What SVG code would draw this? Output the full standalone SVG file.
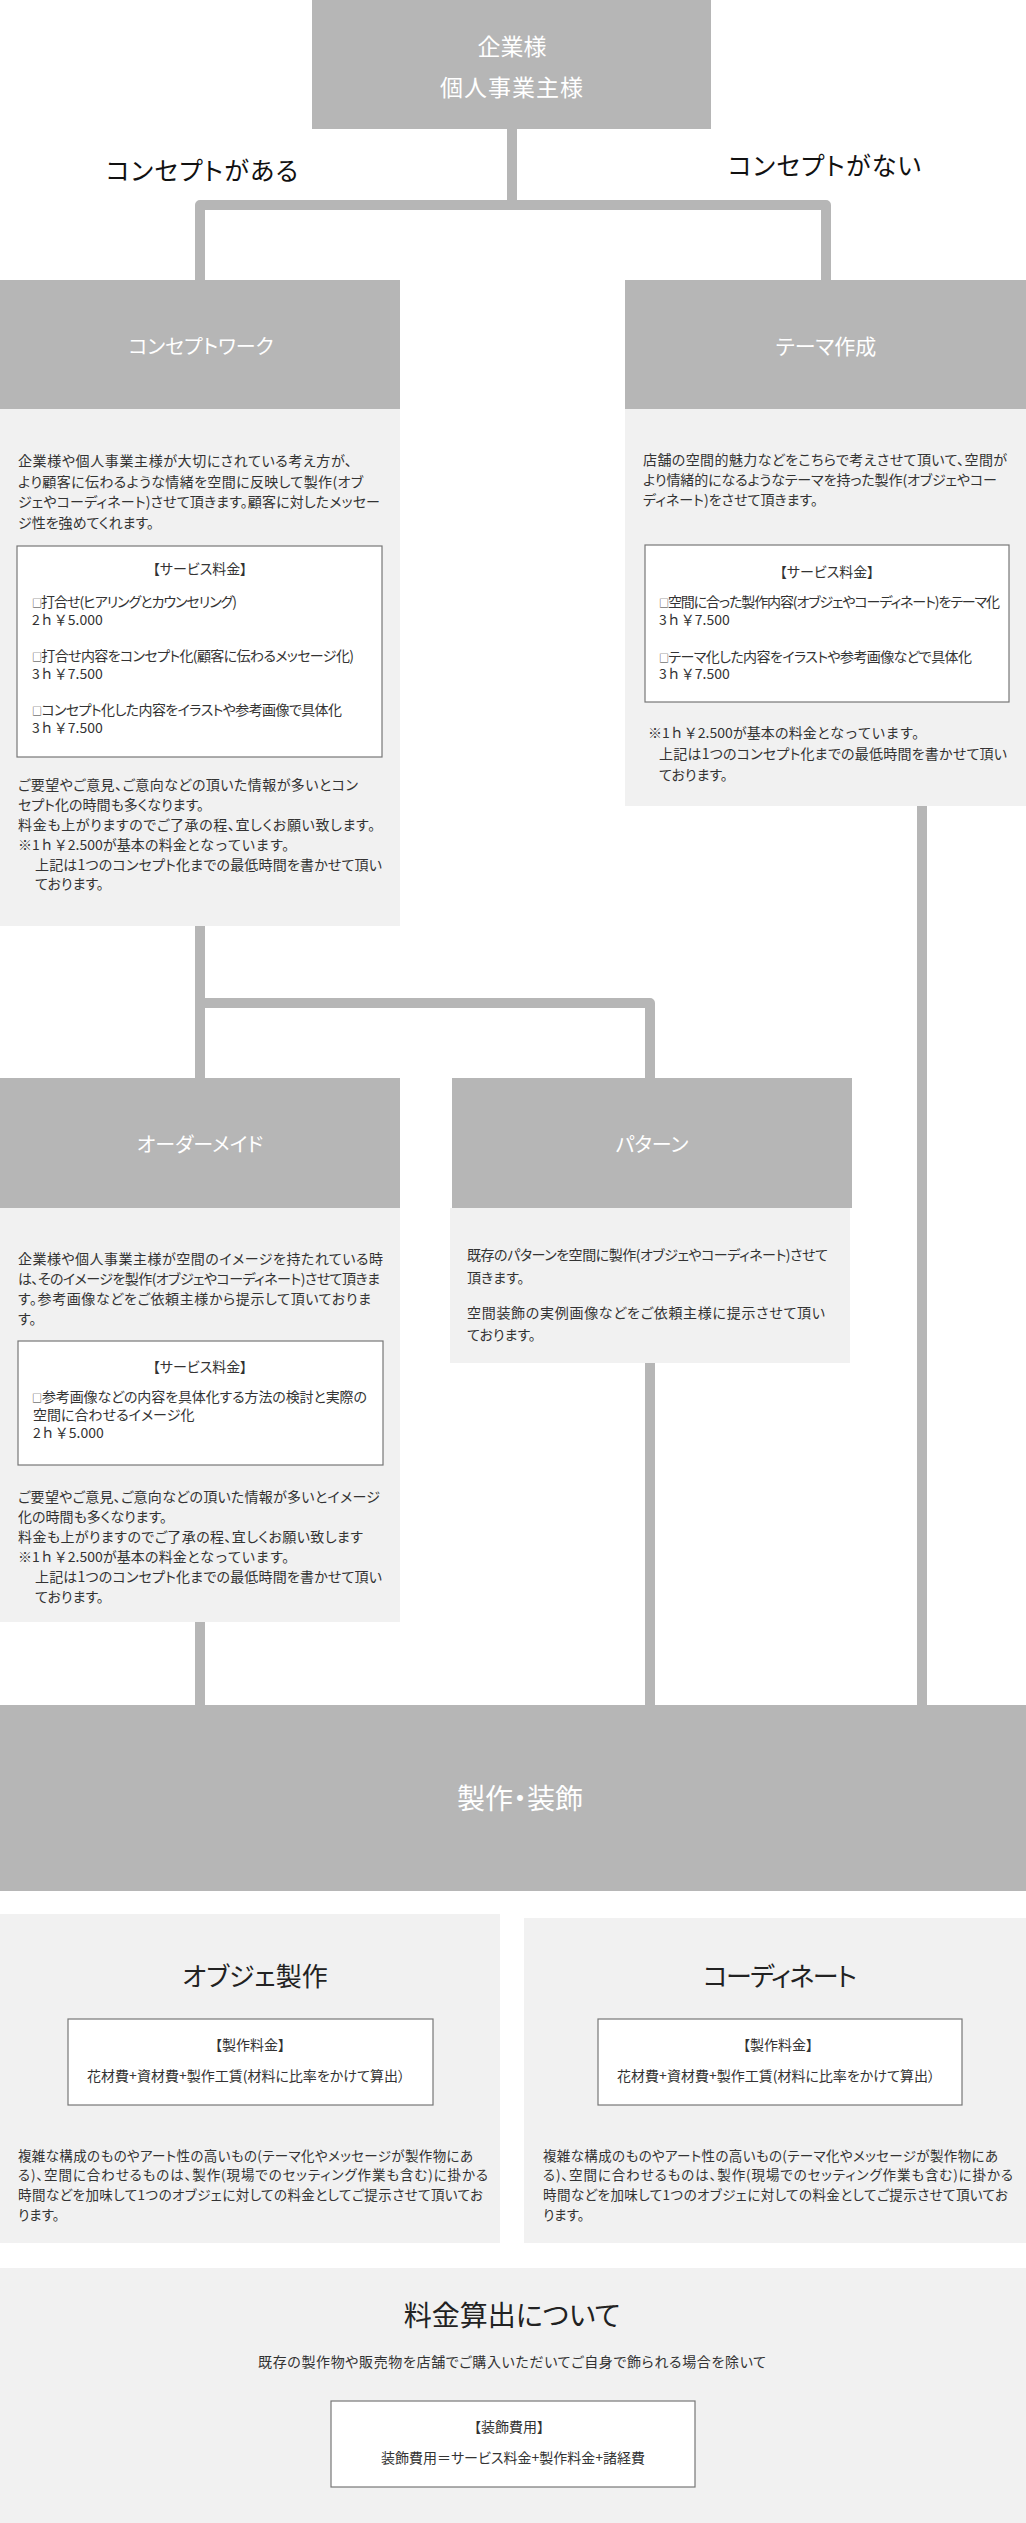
<svg xmlns="http://www.w3.org/2000/svg" width="1026" height="2523" viewBox="0 0 1026 2523" font-family="'Noto Sans CJK JP','Noto Sans',sans-serif">
<style>
.hb{fill:#b6b6b6}
.bd{fill:#f1f1f1}
.ht{fill:#ffffff;font-size:20px;text-anchor:middle;font-feature-settings:"palt"}
.t{fill:#333333;font-size:14px;font-feature-settings:"palt"}
.n{fill:#333333;font-size:14px}
.s{font-size:13.5px}
.tc{fill:#333333;font-size:14px;text-anchor:middle;font-feature-settings:"palt"}
.sq{font-size:10px;font-feature-settings:normal}
.pb{fill:#ffffff;stroke:#777777;stroke-width:1.2}
.c{fill:none;stroke:#b6b6b6;stroke-width:10;stroke-linejoin:round}
.lb{fill:#111111;font-size:25px;font-feature-settings:"palt"}
.tt{fill:#222222;font-size:26px;text-anchor:middle;font-feature-settings:"palt"}
</style>
<rect width="1026" height="2523" fill="#ffffff"/>

<g id="connectors">
<path class="c" d="M512,129 V205"/>
<path class="c" d="M200,280 V205 H826 V280"/>
<path class="c" d="M200,926 V1078"/>
<path class="c" d="M200,1003 H650 V1078"/>
<path class="c" d="M200,1622 V1705"/>
<path class="c" d="M650,1363 V1705"/>
<path class="c" d="M922,806 V1705"/>
</g>

<g id="label-aru"><text class="lb" x="106" y="180" textLength="192">コンセプトがある</text></g>
<g id="label-nai"><text class="lb" x="728" y="175" textLength="193">コンセプトがない</text></g>

<g id="node-client">
<rect class="hb" x="312" y="0" width="399" height="129"/>
<text class="ht" x="512" y="55" style="font-size:23px">企業様</text>
<text class="ht" x="512" y="96" style="font-size:23px" letter-spacing="1">個人事業主様</text>
</g>

<g id="node-concept">
<rect class="hb" x="0" y="280" width="400" height="129"/>
<text class="ht" x="201" y="354">コンセプトワーク</text>
<rect class="bd" x="0" y="409" width="400" height="517"/>
<text class="t" x="18" y="466" textLength="334">企業様や個人事業主様が大切にされている考え方が、</text>
<text class="t" x="18" y="487" textLength="345">より顧客に伝わるような情緒を空間に反映して製作(オブ</text>
<text class="t" x="18" y="507" textLength="362">ジェやコーディネート)させて頂きます。顧客に対したメッセー</text>
<text class="t" x="18" y="528">ジ性を強めてくれます。</text>
<rect class="pb" x="17" y="546" width="365" height="211"/>
<text class="tc" x="200" y="574">【サービス料金】</text>
<text class="t" x="32" y="607" textLength="205"><tspan class="sq">□</tspan>打合せ(ヒアリングとカウンセリング)</text>
<text class="n" x="32" y="625">2ｈ￥5.000</text>
<text class="t" x="32" y="661" textLength="322"><tspan class="sq">□</tspan>打合せ内容をコンセプト化(顧客に伝わるメッセージ化)</text>
<text class="n" x="32" y="679">3ｈ￥7.500</text>
<text class="t" x="32" y="715" textLength="310"><tspan class="sq">□</tspan>コンセプト化した内容をイラストや参考画像で具体化</text>
<text class="n" x="32" y="733">3ｈ￥7.500</text>
<text class="t" x="18" y="790" textLength="340">ご要望やご意見、ご意向などの頂いた情報が多いとコン</text>
<text class="t" x="18" y="810">セプト化の時間も多くなります。</text>
<text class="t" x="18" y="830" textLength="357">料金も上がりますのでご了承の程、宜しくお願い致します。</text>
<text class="n" x="18" y="850">※1ｈ￥2.500が基本の料金となっています。</text>
<text class="t" x="35" y="870" textLength="347">上記は1つのコンセプト化までの最低時間を書かせて頂い</text>
<text class="t" x="35" y="889">ております。</text>
</g>

<g id="node-theme">
<rect class="hb" x="625" y="280" width="401" height="129"/>
<text class="ht" x="826" y="354" style="font-size:21px">テーマ作成</text>
<rect class="bd" x="625" y="409" width="401" height="397"/>
<text class="t" x="643" y="465" textLength="364">店舗の空間的魅力などをこちらで考えさせて頂いて、空間が</text>
<text class="t" x="643" y="485" textLength="354">より情緒的になるようなテーマを持った製作(オブジェやコー</text>
<text class="t" x="643" y="505">ディネート)をさせて頂きます。</text>
<rect class="pb" x="645" y="545" width="364" height="157"/>
<text class="tc" x="827" y="577">【サービス料金】</text>
<text class="t" x="659" y="607" textLength="341"><tspan class="sq">□</tspan>空間に合った製作内容(オブジェやコーディネート)をテーマ化</text>
<text class="n" x="659" y="625">3ｈ￥7.500</text>
<text class="t" x="659" y="662" textLength="313"><tspan class="sq">□</tspan>テーマ化した内容をイラストや参考画像などで具体化</text>
<text class="n" x="659" y="679">3ｈ￥7.500</text>
<text class="n" x="648" y="738">※1ｈ￥2.500が基本の料金となっています。</text>
<text class="t" x="659" y="759" textLength="348">上記は1つのコンセプト化までの最低時間を書かせて頂い</text>
<text class="t" x="659" y="780">ております。</text>
</g>

<g id="node-order">
<rect class="hb" x="0" y="1078" width="400" height="130"/>
<text class="ht" x="200" y="1152">オーダーメイド</text>
<rect class="bd" x="0" y="1208" width="400" height="414"/>
<text class="t" x="18" y="1264" textLength="365">企業様や個人事業主様が空間のイメージを持たれている時</text>
<text class="t" x="18" y="1284" textLength="362">は、そのイメージを製作(オブジェやコーディネート)させて頂きま</text>
<text class="t" x="18" y="1304" textLength="353">す。参考画像などをご依頼主様から提示して頂いておりま</text>
<text class="t" x="18" y="1324">す。</text>
<rect class="pb" x="18" y="1341" width="365" height="124"/>
<text class="tc" x="200" y="1372">【サービス料金】</text>
<text class="t" x="32" y="1402" textLength="335"><tspan class="sq">□</tspan>参考画像などの内容を具体化する方法の検討と実際の</text>
<text class="t" x="33" y="1420">空間に合わせるイメージ化</text>
<text class="n" x="33" y="1438">2ｈ￥5.000</text>
<text class="t" x="18" y="1502" textLength="362">ご要望やご意見、ご意向などの頂いた情報が多いとイメージ</text>
<text class="t" x="18" y="1522">化の時間も多くなります。</text>
<text class="t" x="18" y="1542" textLength="345">料金も上がりますのでご了承の程、宜しくお願い致します</text>
<text class="n" x="18" y="1562">※1ｈ￥2.500が基本の料金となっています。</text>
<text class="t" x="35" y="1582" textLength="347">上記は1つのコンセプト化までの最低時間を書かせて頂い</text>
<text class="t" x="35" y="1602">ております。</text>
</g>

<g id="node-pattern">
<rect class="hb" x="452" y="1078" width="400" height="130"/>
<text class="ht" x="652" y="1152">パターン</text>
<rect class="bd" x="450" y="1208" width="400" height="155"/>
<text class="t" x="467" y="1260" textLength="361">既存のパターンを空間に製作(オブジェやコーディネート)させて</text>
<text class="t" x="467" y="1283">頂きます。</text>
<text class="t" x="467" y="1318" textLength="358">空間装飾の実例画像などをご依頼主様に提示させて頂い</text>
<text class="t" x="467" y="1340">ております。</text>
</g>

<g id="node-production">
<rect class="hb" x="0" y="1705" width="1026" height="186"/>
<text class="ht" x="520" y="1809" style="font-size:28px">製作・装飾</text>
</g>

<g id="node-objet">
<rect class="bd" x="0" y="1914" width="500" height="329"/>
<text class="tt" x="255" y="1986">オブジェ製作</text>
<rect class="pb" x="68" y="2019" width="365" height="86"/>
<text class="tc" x="250" y="2050">【製作料金】</text>
<text class="tc s" x="246" y="2081">花材費+資材費+製作工賃(材料に比率をかけて算出）</text>
<text class="t s" x="18" y="2161" textLength="455">複雑な構成のものやアート性の高いもの(テーマ化やメッセージが製作物にあ</text>
<text class="t s" x="18" y="2180" textLength="470">る)、空間に合わせるものは、製作(現場でのセッティング作業も含む)に掛かる</text>
<text class="t s" x="18" y="2200" textLength="465">時間などを加味して1つのオブジェに対しての料金としてご提示させて頂いてお</text>
<text class="t s" x="18" y="2220">ります。</text>
</g>

<g id="node-coordinate">
<rect class="bd" x="524" y="1918" width="502" height="325"/>
<text class="tt" x="780" y="1986" textLength="154">コーディネート</text>
<rect class="pb" x="598" y="2019" width="364" height="86"/>
<text class="tc" x="778" y="2050">【製作料金】</text>
<text class="tc s" x="776" y="2081">花材費+資材費+製作工賃(材料に比率をかけて算出）</text>
<text class="t s" x="543" y="2161" textLength="455">複雑な構成のものやアート性の高いもの(テーマ化やメッセージが製作物にあ</text>
<text class="t s" x="543" y="2180" textLength="470">る)、空間に合わせるものは、製作(現場でのセッティング作業も含む)に掛かる</text>
<text class="t s" x="543" y="2200" textLength="465">時間などを加味して1つのオブジェに対しての料金としてご提示させて頂いてお</text>
<text class="t s" x="543" y="2220">ります。</text>
</g>

<g id="node-pricing">
<rect class="bd" x="0" y="2268" width="1026" height="255"/>
<text class="tt" x="512" y="2326" style="font-size:28px">料金算出について</text>
<text class="tc" x="512" y="2367" textLength="508">既存の製作物や販売物を店舗でご購入いただいてご自身で飾られる場合を除いて</text>
<rect class="pb" x="331" y="2401" width="364" height="86"/>
<text class="tc" x="509" y="2432">【装飾費用】</text>
<text class="tc" x="513" y="2463">装飾費用＝サービス料金+製作料金+諸経費</text>
</g>
</svg>
